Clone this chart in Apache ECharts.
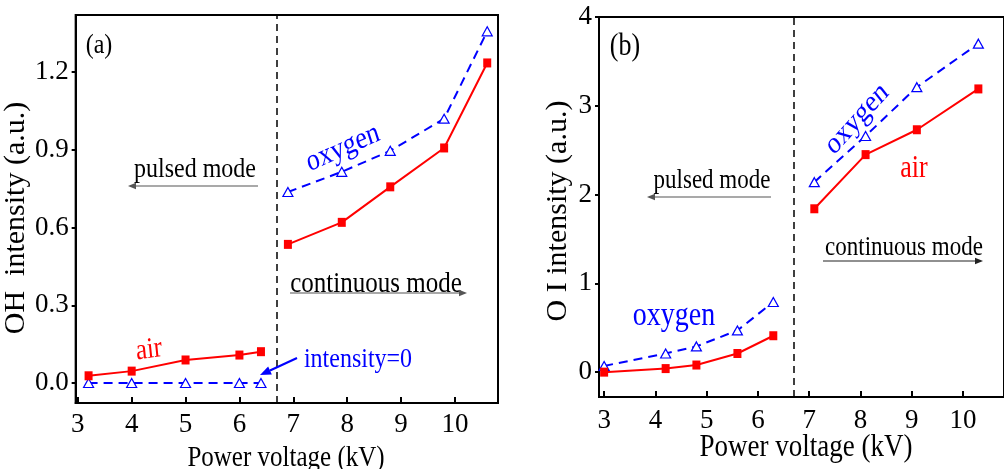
<!doctype html>
<html>
<head>
<meta charset="UTF-8">
<title>OH and O I intensity</title>
<script src="https://cdn.jsdelivr.net/npm/echarts@6/dist/echarts.min.js"></script>
<style>
    html, body { margin: 0; padding: 0; background: #fff; }
    #chart { width: 1004px; height: 469px; }
</style>
</head>
<body>
<div id="chart"></div>
<script>
/* data (a) OH */
const pulsedV_a = [3.2, 4, 5, 6, 6.4];
const airPulsed_a = [0.028, 0.046, 0.089, 0.108, 0.121];
const oxyPulsed_a = [0, 0, 0, 0, 0];
const contV_a = [6.9, 7.9, 8.8, 9.8, 10.6];
const airCont_a = [0.535, 0.62, 0.757, 0.907, 1.235];
const oxyCont_a = [0.737, 0.815, 0.896, 1.02, 1.357];

/* data (b) O I */
const pulsedV_b = [3.0, 4.2, 4.8, 5.6, 6.3];
const airPulsed_b = [0.0, 0.04, 0.08, 0.21, 0.41];
const oxyPulsed_b = [0.07, 0.21, 0.29, 0.47, 0.79];
const contV_b = [7.1, 8.1, 9.1, 10.3];
const airCont_b = [1.84, 2.45, 2.73, 3.19];
const oxyCont_b = [2.14, 2.66, 3.21, 3.70];

/* ticks */
const xTicks = [3, 4, 5, 6, 7, 8, 9, 10];
const yTicks_a = [0, 0.3, 0.6, 0.9, 1.2];
const yTicks_b = [0, 1, 2, 3, 4];
const modeBoundary = 6.7;

const FONT = '"Liberation Serif", "Times New Roman", serif';
const RED = '#ff0000';
const BLUE = '#0000ff';
const STRETCH = 1.18; // 원본 그림은 글자가 세로로 약간 늘어나 있음

function pairs(xs, ys) {
    return xs.map(function (x, i) { return [x, ys[i]]; });
}

function airSeries(xi, xs, ys) {
    return {
        type: 'line', xAxisIndex: xi, yAxisIndex: xi,
        data: pairs(xs, ys),
        symbol: 'rect', symbolSize: [8, 9],
        lineStyle: { color: RED, width: 2 },
        itemStyle: { color: RED },
        z: 3
    };
}

function oxySeries(xi, xs, ys) {
    return {
        type: 'line', xAxisIndex: xi, yAxisIndex: xi,
        data: pairs(xs, ys),
        symbol: 'triangle', symbolSize: [10, 9],
        lineStyle: { color: BLUE, width: 2, type: [9, 6] },
        itemStyle: { color: '#fff', borderColor: BLUE, borderWidth: 1.2 },
        z: 2
    };
}

function boundaryLine() {
    return {
        silent: true, symbol: 'none',
        label: { show: false },
        lineStyle: { color: '#000', type: [7, 5], width: 1.5 },
        data: [{ xAxis: modeBoundary }]
    };
}

function xAxisCfg(gi, min, max, margin) {
    return {
        type: 'value', gridIndex: gi, min: min, max: max,
        axisLine: { onZero: false, lineStyle: { color: '#000', width: 2 } },
        axisTick: { inside: true, length: 6, lineStyle: { color: '#000', width: 2 }, customValues: xTicks },
        axisLabel: { fontFamily: FONT, fontSize: 27, color: '#000', margin: margin, customValues: xTicks },
        splitLine: { show: false }
    };
}

function yAxisCfg(gi, min, max, name, ticks, digits, nameGap, namePad) {
    return {
        type: 'value', gridIndex: gi, min: min, max: max,
        name: name, nameLocation: 'middle', nameGap: nameGap,
        nameTextStyle: { fontFamily: FONT, fontSize: 30, color: '#000', padding: namePad },
        axisLine: { onZero: false, lineStyle: { color: '#000', width: 2 } },
        axisTick: { inside: false, length: 4, lineStyle: { color: '#000', width: 2 }, customValues: ticks },
        axisLabel: {
            fontFamily: FONT, fontSize: 27, color: '#000', margin: 7, customValues: ticks,
            formatter: function (v) { return v.toFixed(digits); }
        },
        splitLine: { show: false }
    };
}

/* annotation helpers: 세로로 늘린 글자 */
function txt(x, y, s, size, color, rot) {
    return {
        type: 'group', x: x, y: y, scaleY: STRETCH, silent: true, z: 10,
        children: [{
            type: 'text', x: 0, y: 0, rotation: rot || 0, silent: true, z: 10,
            style: {
                text: s, fill: color, fontFamily: FONT, fontSize: size,
                textAlign: 'center', textVerticalAlign: 'middle', align: 'center', verticalAlign: 'middle'
            }
        }]
    };
}

function arrow(x1, y1, x2, y2, color, w, h) {
    let a = Math.atan2(y2 - y1, x2 - x1);
    let bx = x2 - h * Math.cos(a), by = y2 - h * Math.sin(a);
    let px = -Math.sin(a) * h * 0.4, py = Math.cos(a) * h * 0.4;
    return [
        { type: 'line', silent: true, z: 10, shape: { x1: x1, y1: y1, x2: bx, y2: by }, style: { stroke: color, lineWidth: w } },
        { type: 'polygon', silent: true, z: 10, shape: { points: [[x2, y2], [bx + px, by + py], [bx - px, by - py]] }, style: { fill: color } }
    ];
}

let chart = echarts.init(document.getElementById('chart'), null, { renderer: 'canvas' });

let graphics = [
    txt(99, 46, '(a)', 24, '#000'),
    txt(195, 170, 'pulsed mode', 24, '#000'),
    txt(376, 284, 'continuous mode', 25, '#000'),
    txt(343, 148, 'oxygen', 26, BLUE, 0.36),
    txt(149, 350, 'air', 25, RED, 0.12),
    txt(358, 360, 'intensity=0', 24, BLUE),
    txt(625, 47, '(b)', 26, '#000'),
    txt(712, 181, 'pulsed mode', 23, '#000'),
    txt(904, 248, 'continuous mode', 23, '#000'),
    txt(857, 119, 'oxygen', 26, BLUE, 0.75),
    txt(914, 169, 'air', 26, RED),
    txt(674, 316, 'oxygen', 28, BLUE),
    txt(286, 458, 'Power voltage (kV)', 25, '#000'),
    txt(806, 448, 'Power voltage (kV)', 27, '#000')
].concat(
    arrow(258, 186, 128, 186, '#555', 1.2, 8),
    arrow(290, 293, 467, 293, '#555', 1.2, 8),
    arrow(297, 358, 260, 375, BLUE, 2.2, 11),
    arrow(771, 197, 647, 197, '#555', 1.2, 8),
    arrow(823, 261, 983, 261, '#222', 1.2, 8)
);

let option = {
    animation: false,
    backgroundColor: '#fff',
    grid: [
        { left: 74, top: 15, width: 424, height: 388, show: true, borderColor: '#000', borderWidth: 2 },
        { left: 599, top: 17, width: 415, height: 380, show: true, borderColor: '#000', borderWidth: 2 }
    ],
    xAxis: [
        xAxisCfg(0, 2.96, 10.8, 8),
        xAxisCfg(1, 2.9, 10.8, 10)
    ],
    yAxis: [
        yAxisCfg(0, -0.077, 1.42, 'OH  intensity (a.u.)', yTicks_a, 1, 41, [0, 18, 0, 0]),
        yAxisCfg(1, -0.28, 4, 'O I intensity (a.u.)', yTicks_b, 0, 26, [0, 8, 0, 0])
    ],
    series: [
        Object.assign(oxySeries(0, pulsedV_a, oxyPulsed_a), { markLine: boundaryLine() }),
        airSeries(0, pulsedV_a, airPulsed_a),
        oxySeries(0, contV_a, oxyCont_a),
        airSeries(0, contV_a, airCont_a),
        Object.assign(oxySeries(1, pulsedV_b, oxyPulsed_b), { markLine: boundaryLine() }),
        airSeries(1, pulsedV_b, airPulsed_b),
        oxySeries(1, contV_b, oxyCont_b),
        airSeries(1, contV_b, airCont_b)
    ],
    graphic: graphics
};
chart.setOption(option);

window.addEventListener('resize', chart.resize);
</script>
</body>
</html>
